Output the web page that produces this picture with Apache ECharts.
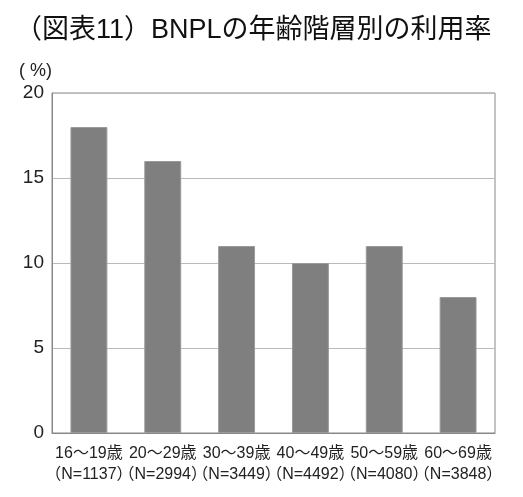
<!DOCTYPE html>
<html>
<head>
<meta charset="utf-8">
<script src="https://cdn.jsdelivr.net/npm/echarts@6/dist/echarts.min.js"></script>
<style>
html,body{margin:0;padding:0;background:#fff;}
#main{width:523px;height:497px;}
</style>
</head>
<body>
<div id="main"></div>
<script type="text/javascript">
// 年齢階層とサンプル数
var ageGroups = ['16～19歳','20～29歳','30～39歳','40～49歳','50～59歳','60～69歳'];
var sampleSizes = ['（N=1137）','（N=2994）','（N=3449）','（N=4492）','（N=4080）','（N=3848）'];
// 利用率（%）
var usageRate = [18, 16, 11, 10, 11, 8];
var yTicks = [0, 5, 10, 15, 20];

var categories = ageGroups.map(function(a, i){ return a + '\n' + sampleSizes[i]; });

var myChart = echarts.init(document.getElementById('main'));

var font = '"Liberation Sans", "Noto Sans CJK JP", sans-serif';

var option = {
    animation: false,
    textStyle: { fontFamily: font },
    title: {
        text: '（図表11）BNPLの年齢階層別の利用率',
        left: 10,
        top: 12,
        textStyle: { fontSize: 27, fontWeight: 'normal', color: '#111', fontFamily: font }
    },
    grid: {
        left: 52, right: 28, top: 93, bottom: 64,
        show: true, borderColor: '#888', borderWidth: 1
    },
    xAxis: {
        type: 'category',
        data: categories,
        axisLine: { lineStyle: { color: '#888' } },
        axisTick: { show: false },
        axisLabel: {
            interval: 0, margin: 10, fontSize: 16, lineHeight: 21,
            color: '#222', fontFamily: font
        }
    },
    yAxis: {
        type: 'value',
        min: yTicks[0], max: yTicks[yTicks.length - 1], interval: 5,
        name: '( %)',
        nameLocation: 'end',
        nameGap: 13,
        nameTextStyle: { fontSize: 18, color: '#222', align: 'right', fontFamily: font },
        axisLine: { show: true, lineStyle: { color: '#888' } },
        axisTick: { show: false },
        axisLabel: { fontSize: 19, color: '#222', margin: 8, fontFamily: font },
        splitLine: { lineStyle: { color: '#bbb', width: 1 } }
    },
    series: [{
        type: 'bar',
        data: usageRate,
        barWidth: '50%',
        itemStyle: { color: '#7f7f7f', borderColor: '#9a9a9a', borderWidth: 1 }
    }]
};

myChart.setOption(option);
</script>
</body>
</html>
